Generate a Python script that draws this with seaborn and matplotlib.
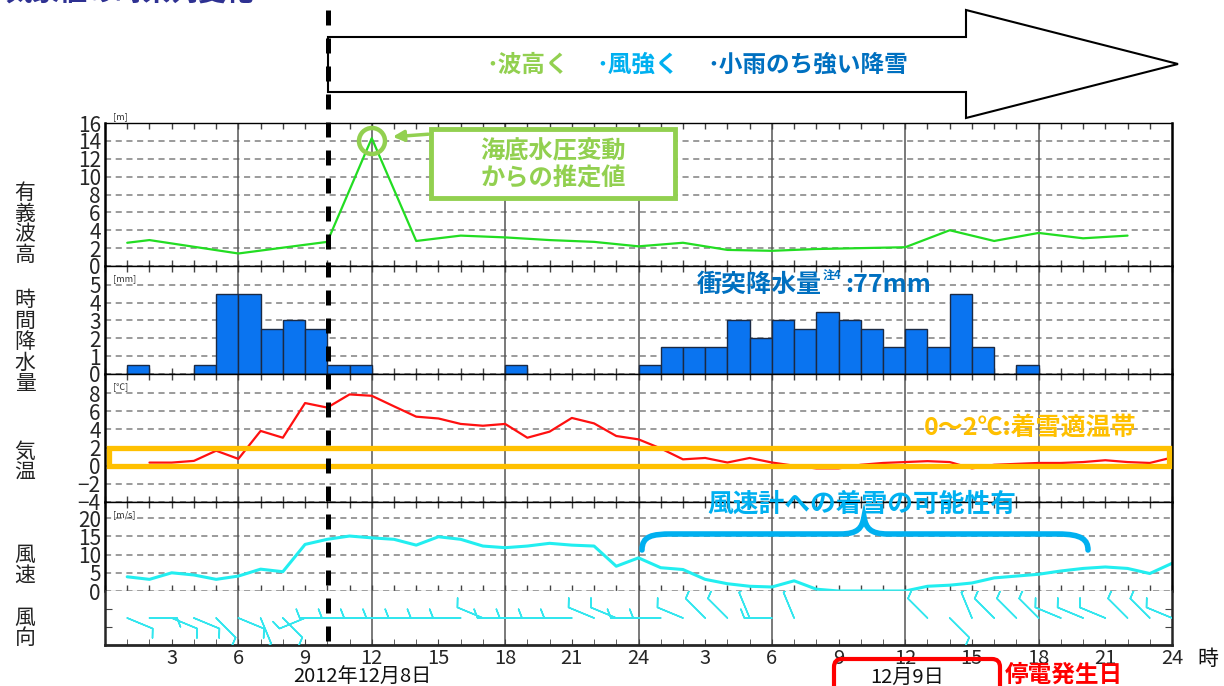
import numpy as np
import pandas as pd
import matplotlib.pyplot as plt
import seaborn as sns
from matplotlib.patches import Polygon, Rectangle, Circle, FancyBboxPatch, PathPatch, FancyArrowPatch
from matplotlib.path import Path

sns.set_style("white")
plt.rcParams['font.family'] = ['Noto Sans CJK JP', 'DejaVu Sans']

# ---- data (hours counted from 2012-12-08 00:00) ----
wave_hours = [1, 2, 6, 10, 12, 14, 16, 18, 20, 22, 24, 26, 28, 30, 32, 34, 36, 38, 40, 42, 44, 46]
wave_m = [2.6, 2.9, 1.4, 2.7, 14.3, 2.8, 3.4, 3.2, 2.9, 2.7, 2.2, 2.6, 1.8, 1.7, 1.9, 2.0, 2.1, 4.0, 2.8, 3.7, 3.1, 3.4]

rain_hour_end = [2, 5, 6, 7, 8, 9, 10, 11, 12, 19,
                 25, 26, 27, 28, 29, 30, 31, 32, 33, 34, 35, 36, 37, 38, 39, 40, 42]
rain_mm = [0.5, 0.5, 4.5, 4.5, 2.5, 3.0, 2.5, 0.5, 0.5, 0.5,
           0.5, 1.5, 1.5, 1.5, 3.0, 2.0, 3.0, 2.5, 3.5, 3.0, 2.5, 1.5, 2.5, 1.5, 4.5, 1.5, 0.5]

temp_hours = list(range(2, 49))
temp_c = [0.34, 0.34, 0.53, 1.65, 0.75, 3.83, 3.08, 6.9, 6.4, 7.85, 7.7,
          6.54, 5.4, 5.2, 4.6, 4.4, 4.6, 3.08, 3.75, 5.26, 4.66, 3.27, 2.9,
          1.9, 0.7, 0.85, 0.35, 0.85, 0.35, 0.0, -0.3, -0.3, 0.1, 0.3, 0.4,
          0.5, 0.4, -0.3, 0.1, 0.2, 0.3, 0.3, 0.4, 0.6, 0.4, 0.3, 0.9]

wind_hours = list(range(1, 49))
wind_ms = [3.9, 3.2, 5.0, 4.4, 3.2, 4.1, 6.0, 5.3, 12.8, 14.2, 15.1, 14.6,
           14.2, 12.6, 14.9, 14.2, 12.35, 11.9, 12.35, 13.1, 12.6, 12.35, 6.8, 9.1,
           6.4, 5.9, 3.2, 2.0, 1.3, 1.1, 2.8, 0.5, 0.0, 0.0, 0.0, 0.0,
           1.3, 1.6, 2.2, 3.6, 4.1, 4.6, 5.5, 6.2, 6.6, 6.2, 4.8, 7.6]

# wind direction (deg, where the wind comes from); NaN = calm
wind_dir = [112.5, 90, 112.5, 112.5, 135, 112.5, 157.5, 135, 247.5, 270, 270, 270,
            270, 270, 270, 270, 292.5, 270, 270, 270, 270, 292.5, 292.5, 270,
            270, 292.5, 315, 315, 337.5, 270, 337.5, np.nan, np.nan, np.nan, np.nan, np.nan,
            315, 135, 337.5, 315, 315, 315, 292.5, 292.5, 292.5, 315, 315, 292.5]

hour_ticks = list(range(0, 49, 3))
hour_labels = ['', '3', '6', '9', '12', '15', '18', '21', '24',
               '3', '6', '9', '12', '15', '18', '21', '24']

# ---- figure / axes ----
W, H = 1224, 686
fig = plt.figure(figsize=(W / 100, H / 100), dpi=100)


def box(top, bottom):
    return [105 / W, (H - bottom) / H, 1067 / W, (bottom - top) / H]


ax_wave = fig.add_axes(box(123, 266))
ax_rain = fig.add_axes(box(266, 374))
ax_temp = fig.add_axes(box(374, 502))
ax_wind = fig.add_axes(box(502, 591))
ax_dir = fig.add_axes(box(591, 645))


def style(ax, yticks, ylim):
    ax.set_xlim(0, 48)
    ax.set_ylim(*ylim)
    ax.set_yticks(yticks)
    ax.set_xticks(hour_ticks)
    ax.set_xticks(range(0, 49), minor=True)
    ax.tick_params(axis='x', which='both', direction='in', top=True, bottom=True,
                   length=4, width=1, color='#444', labelbottom=False)
    ax.tick_params(axis='y', length=0, labelsize=15, pad=3)
    for v in yticks:
        ax.axhline(v, color='#808080', lw=1.1, ls=(0, (4, 3)), zorder=0)
    for h in range(6, 48, 6):
        ax.axvline(h, color='#555555', lw=1.1, zorder=0)
    ax.set_xlabel('')
    ax.set_ylabel('')
    for s in ax.spines.values():
        s.set_color('black')
        s.set_linewidth(1.0)
    ax.spines['left'].set_linewidth(1.8)
    ax.spines['right'].set_linewidth(1.8)


# wave height
sns.lineplot(x=wave_hours, y=wave_m, ax=ax_wave, color='#22dd22', lw=1.6)
style(ax_wave, list(range(0, 17, 2)), (0, 16))

# precipitation
rain_df = pd.DataFrame({'x': np.array(rain_hour_end) - 0.5, 'mm': rain_mm})
sns.barplot(data=rain_df, x='x', y='mm', native_scale=True, width=1, color='#0a74f0',
            saturation=1, edgecolor='#1b2a44', linewidth=1, ax=ax_rain, zorder=2)
style(ax_rain, list(range(0, 6)), (0, 6.05))

# temperature
sns.lineplot(x=temp_hours, y=temp_c, ax=ax_temp, color='#ff1010', lw=1.6, zorder=3)
style(ax_temp, list(range(-4, 9, 2)), (-4, 10.1))
ax_temp.add_patch(Rectangle((0.2, 0), 47.65, 2, fill=False, edgecolor='#ffc000',
                            lw=3.8, clip_on=False, zorder=5))

# wind speed
sns.lineplot(x=wind_hours, y=wind_ms, ax=ax_wind, color='#22eef0', lw=2.2)
style(ax_wind, list(range(0, 21, 5)), (0, 24.45))
ax_wind.spines['bottom'].set_color('#b0b0b0')

# wind direction barbs
dir_df = pd.DataFrame({'h': wind_hours, 'd': wind_dir}).dropna()
rad = np.deg2rad(dir_df['d'].to_numpy())
ax_dir.barbs(dir_df['h'], np.zeros(len(dir_df)), -10 * np.sin(rad), -10 * np.cos(rad),
             length=6.3, sizes=dict(height=0.32, spacing=0.15), color='#33e6ee',
             linewidth=1.1, pivot='tip', zorder=3)
ax_dir.set_xlim(0, 48)
ax_dir.set_ylim(-1, 1)
ax_dir.set_xticks(hour_ticks)
ax_dir.set_xticklabels(hour_labels)
ax_dir.set_xticks(range(0, 49), minor=True)
ax_dir.tick_params(axis='x', which='both', direction='in', top=False, bottom=True,
                   length=4, color='#444', labelsize=14.5, pad=2)
ax_dir.set_yticks([-0.35, 0.35])
ax_dir.tick_params(axis='y', direction='in', left=True, right=True, length=5,
                   color='#444', labelleft=False)
for h in range(6, 48, 6):
    ax_dir.axvline(h, color='#555555', lw=1.1, zorder=0)
ax_dir.spines['top'].set_visible(False)
ax_dir.spines['bottom'].set_linewidth(2)
ax_dir.spines['left'].set_linewidth(1.8)
ax_dir.spines['right'].set_linewidth(1.8)

# ---- overlay in pixel coordinates ----
ov = fig.add_axes([0, 0, 1, 1], zorder=10)
ov.set_xlim(0, W)
ov.set_ylim(H, 0)
ov.axis('off')
ov.patch.set_visible(False)

# cut-off heading at the very top
ov.text(4, 8, '気象値の時系列変化', fontsize=20, color='#2e3192', weight='bold',
        ha='left', va='bottom')

# big arrow
ov.add_patch(Polygon([(328, 37), (966, 37), (966, 10), (1178, 64), (966, 118), (966, 92), (328, 92)],
                     closed=True, facecolor='white', edgecolor='black', lw=1.5, zorder=1))
ov.text(486, 65, '･波高く', color='#92d050', fontsize=17, weight='bold', va='center', zorder=2)
ov.text(596, 65, '･風強く', color='#00b0f0', fontsize=17, weight='bold', va='center', zorder=2)
ov.text(707, 65, '･小雨のち強い降雪', color='#0070c0', fontsize=17, weight='bold', va='center', zorder=2)

# thick dashed marker line
ov.plot([328, 328], [10, 648], color='black', lw=3.6, ls=(0, (3, 2.6)), zorder=3)

# panel titles
for txt, yc in [('有\n義\n波\n高', 224), ('時\n間\n降\n水\n量', 342), ('気\n温', 462),
                ('風\n速', 565), ('風\n向', 628)]:
    ov.text(25, yc, txt, fontsize=15, ha='center', va='center', linespacing=0.94, color='#222')

# units
for txt, yc in [('[m]', 117), ('[mm]', 279), ('[℃]', 387), ('[m/s]', 515)]:
    ov.text(113, yc, txt, fontsize=6.5, color='#333', va='center', ha='left')

# estimated-value callout
ov.add_patch(Circle((372, 141), 13, fill=False, edgecolor='#92d050', lw=3.2, zorder=4))
ov.add_patch(Rectangle((431, 129), 244, 69, facecolor='white', edgecolor='#92d050', lw=3.5, zorder=4))
ov.add_patch(FancyArrowPatch((431, 134), (390, 137), arrowstyle='-|>', mutation_scale=16,
                             lw=2.5, color='#92d050', zorder=4))
ov.text(553, 151, '海底水圧変動', color='#92d050', fontsize=17.5, weight='bold',
        ha='center', va='center', zorder=5)
ov.text(553, 178, 'からの推定値', color='#92d050', fontsize=17.5, weight='bold',
        ha='center', va='center', zorder=5)

# precipitation note
ov.text(697, 285, '衝突降水量', color='#0070c0', fontsize=18, weight='bold', va='center')
ov.text(823, 276, '注4', color='#0070c0', fontsize=8.5, weight='bold', va='center')
ov.text(845, 285, ':77mm', color='#0070c0', fontsize=18, weight='bold', va='center')

# temperature band note
ov.text(1030, 428, '0～2℃:着雪適温帯', color='#ffc000', fontsize=18, weight='bold',
        ha='center', va='center')

# brace + note for anemometer icing
brace = Path([(642, 550), (642, 536), (652, 534), (672, 534), (840, 534),
              (858, 534), (862, 528), (864, 517),
              (866, 528), (870, 534), (888, 534), (1058, 534),
              (1082, 534), (1088, 540), (1088, 550)],
             [Path.MOVETO, Path.CURVE4, Path.CURVE4, Path.CURVE4, Path.LINETO,
              Path.CURVE4, Path.CURVE4, Path.CURVE4,
              Path.CURVE4, Path.CURVE4, Path.CURVE4, Path.LINETO,
              Path.CURVE4, Path.CURVE4, Path.CURVE4])
ov.add_patch(PathPatch(brace, fill=False, edgecolor='#00b0f0', lw=4, capstyle='round'))
ov.text(862, 504, '風速計への着雪の可能性有', color='#00b0f0', fontsize=18.5, weight='bold',
        ha='center', va='center')

# dates
ov.text(362, 677, '2012年12月8日', fontsize=14.5, ha='center', va='center', color='#111')
ov.add_patch(FancyBboxPatch((834, 659), 166, 40, boxstyle='round,pad=0,rounding_size=8',
                            fill=False, edgecolor='#ff0000', lw=3))
ov.text(907, 677, '12月9日', fontsize=14.5, ha='center', va='center', color='#111')
ov.text(1005, 675, '停電発生日', fontsize=17, ha='left', va='center', color='#ff0000', weight='bold')
ov.text(1197, 659, '時', fontsize=15, ha='left', va='center', color='#111')

fig.savefig('out.png', dpi=100)
